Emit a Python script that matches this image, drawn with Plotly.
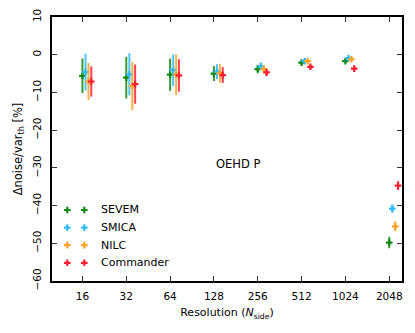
import plotly.graph_objects as go

# Data
nside = [16, 32, 64, 128, 256, 512, 1024, 2048]
methods = ['SEVEM', 'SMICA', 'NILC', 'Commander']
colors = ['#138a13', '#2fbaff', '#ffa227', '#ff1f2f']
err_colors = ['rgba(19,138,19,0.85)', 'rgba(47,186,255,0.85)', 'rgba(255,162,39,0.85)', 'rgba(255,31,47,0.85)']

sevem = [-5.6, -6.1, -5.3, -5.0, -3.8, -2.1, -1.7, -49.8]
sevem_err = [4.6, 5.5, 4.3, 2.0, 1.1, 0.5, 0.5, 1.5]
smica = [-4.6, -5.2, -4.1, -4.5, -3.1, -1.7, -0.9, -40.8]
smica_err = [4.9, 5.6, 4.2, 2.0, 1.0, 0.5, 0.4, 1.1]
nilc = [-7.1, -8.3, -5.3, -4.9, -3.8, -1.7, -1.2, -45.5]
nilc_err = [4.9, 6.4, 5.4, 2.5, 1.0, 0.4, 0.4, 1.3]
commander = [-7.1, -7.8, -5.5, -5.4, -4.7, -3.2, -3.7, -34.7]
commander_err = [4.0, 5.2, 4.3, 2.1, 1.0, 0.5, 0.5, 1.2]

values = [sevem, smica, nilc, commander]
errors = [sevem_err, smica_err, nilc_err, commander_err]

FONT = 'DejaVu Sans'

fig = go.Figure()

for i, name in enumerate(methods):
    # small horizontal shift so the points don't overlap
    x = [n * (1 + 0.05 * i) for n in nside]
    fig.add_trace(go.Scatter(
        x=x, y=values[i], mode='markers', name=name,
        marker=dict(symbol='cross', size=5.5, color=colors[i]),
        error_y=dict(type='data', array=errors[i], color=err_colors[i],
                     thickness=2, width=0),
        showlegend=False, hoverinfo='skip'))

# matplotlib-style legend with two markers per row, on a hidden overlay axis
leg_y = [0.269, 0.202, 0.136, 0.069]
for i, name in enumerate(methods):
    fig.add_trace(go.Scatter(
        x=[0.0437, 0.0923], y=[leg_y[i], leg_y[i]], mode='markers',
        marker=dict(symbol='cross', size=5.5, color=colors[i]),
        xaxis='x2', yaxis='y2', showlegend=False, hoverinfo='skip'))
    fig.add_annotation(x=0.134, y=leg_y[i], xref='paper', yref='paper',
                       text=name, showarrow=False, xanchor='left', yanchor='middle',
                       font=dict(family=FONT, size=11, color='black'))

fig.add_annotation(x=0.53, y=0.445, xref='paper', yref='paper', text='OEHD P',
                   showarrow=False, xanchor='center', yanchor='middle',
                   font=dict(family=FONT, size=11.5, color='black'))

axis_style = dict(showline=True, linecolor='black', linewidth=2, mirror='allticks',
                  ticks='inside', ticklen=5, tickwidth=1, tickcolor='#333',
                  showgrid=False, zeroline=False, automargin=False)

fig.update_layout(
    width=415, height=333,
    margin=dict(l=52, r=13, t=17, b=52),
    paper_bgcolor='white', plot_bgcolor='white',
    font=dict(family=FONT, size=10.5, color='black'),
    showlegend=False,
    xaxis=dict(type='log', range=[0.995, 3.399], tickvals=nside,
               ticktext=[str(n) for n in nside], ticklabelstandoff=4,
               title=dict(text='Resolution (<i>N</i><sub>side</sub>)', standoff=8,
                          font=dict(size=11)),
               **axis_style),
    yaxis=dict(range=[-60, 10], tickvals=list(range(-60, 11, 10)), tickangle=-90,
               ticklabelstandoff=5,
               title=dict(text='Δnoise/var<sub>th</sub> [%]', standoff=6,
                          font=dict(size=11.5)),
               **axis_style),
    xaxis2=dict(overlaying='x', range=[0, 1], visible=False, fixedrange=True),
    yaxis2=dict(overlaying='y', range=[0, 1], visible=False, fixedrange=True),
)

# drop the page margin so the 415x333 figure fills the window exactly
fig.write_html('out.html', config={'displayModeBar': False},
               post_script="document.body.style.margin='0';document.body.style.overflow='hidden';")
